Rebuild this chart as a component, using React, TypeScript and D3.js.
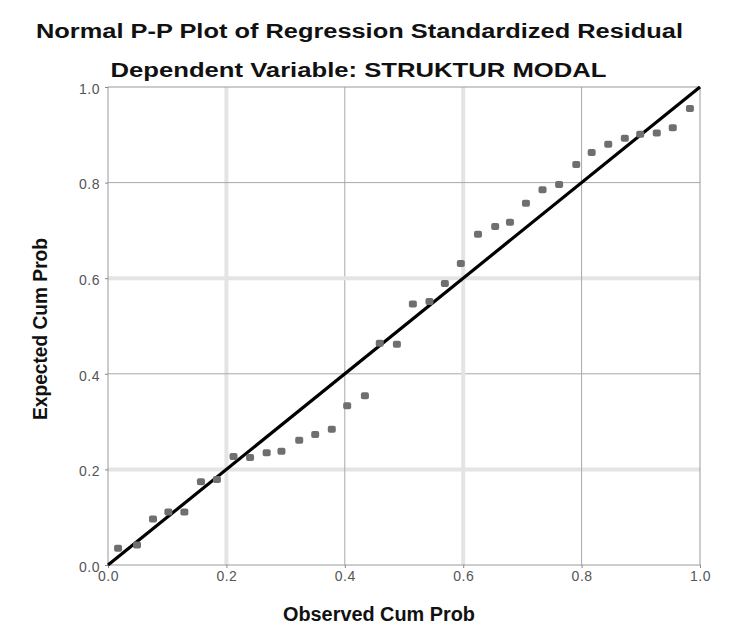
import React, { useRef, useEffect } from "react";
import * as d3 from "d3";

// observed cumulative probability (x) and expected cumulative probability (y)
const observed = [
  0.017, 0.049, 0.076, 0.102, 0.129, 0.157, 0.184, 0.212, 0.24, 0.268, 0.293,
  0.323, 0.35, 0.378, 0.404, 0.434, 0.459, 0.488, 0.515, 0.543, 0.569, 0.596,
  0.625, 0.654, 0.679, 0.706, 0.734, 0.762, 0.791, 0.817, 0.845, 0.873, 0.899,
  0.927, 0.954, 0.983,
];
const expected = [
  0.035, 0.042, 0.096, 0.111, 0.111, 0.174, 0.179, 0.227, 0.225, 0.235, 0.238,
  0.261, 0.273, 0.284, 0.333, 0.354, 0.464, 0.462, 0.546, 0.551, 0.589, 0.631,
  0.692, 0.708, 0.717, 0.757, 0.785, 0.796, 0.838, 0.863, 0.88, 0.893, 0.901,
  0.904, 0.915, 0.955,
];
const ticks = [0, 0.2, 0.4, 0.6, 0.8, 1.0];
const title = "Normal P-P Plot of Regression Standardized Residual";
const subtitle = "Dependent Variable: STRUKTUR MODAL";
const xLabel = "Observed Cum Prob";
const yLabel = "Expected Cum Prob";

const App = () => {
  const ref = useRef<SVGSVGElement>(null);

  useEffect(() => {
    const svg = d3.select(ref.current);
    svg.selectAll("*").remove();

    const W = 747;
    const H = 626;
    const margin = { top: 87, right: 47, bottom: 61, left: 108 };
    const width = W - margin.left - margin.right;
    const height = H - margin.top - margin.bottom;
    const font = "'Liberation Sans', Arial, sans-serif";

    svg.attr("width", W).attr("height", H);
    svg.append("rect").attr("width", W).attr("height", H).attr("fill", "#fff");

    const g = svg
      .append("g")
      .attr("transform", `translate(${margin.left},${margin.top})`);

    const x = d3.scaleLinear().domain([0, 1]).range([0, width]);
    const y = d3.scaleLinear().domain([0, 1]).range([height, 0]);

    // grid: alternating soft / thin lines like the original
    const inner = ticks.slice(1, -1);
    inner.forEach((t, i) => {
      const soft = i % 2 === 0;
      g.append("line")
        .attr("x1", x(t))
        .attr("x2", x(t))
        .attr("y1", 0)
        .attr("y2", height)
        .attr("stroke", soft ? "#e4e4e4" : "#a8a8a8")
        .attr("stroke-width", soft ? 4 : 1);
      g.append("line")
        .attr("x1", 0)
        .attr("x2", width)
        .attr("y1", y(t))
        .attr("y2", y(t))
        .attr("stroke", soft ? "#e4e4e4" : "#a8a8a8")
        .attr("stroke-width", soft ? 4 : 1);
    });

    // frame
    g.append("rect")
      .attr("width", width)
      .attr("height", height)
      .attr("fill", "none")
      .attr("stroke", "#9a9a9a")
      .attr("stroke-width", 1);

    // axes
    const xAxis = g
      .append("g")
      .attr("transform", `translate(0,${height})`)
      .call(
        d3
          .axisBottom(x)
          .tickValues(ticks)
          .tickSize(3)
          .tickFormat(d3.format(".1f"))
      );
    const yAxis = g.append("g").call(
      d3
        .axisLeft(y)
        .tickValues(ticks)
        .tickSize(3)
        .tickFormat(d3.format(".1f"))
    );
    [xAxis, yAxis].forEach((a) => {
      a.select(".domain").remove();
      a.selectAll("line").attr("stroke", "#888");
      a.selectAll("text")
        .attr("fill", "#555")
        .style("font-family", font)
        .style("font-size", "14px")
        .style("letter-spacing", "0.5px");
    });
    xAxis.selectAll("text").attr("y", 8).attr("dy", "0.6em");
    yAxis.selectAll("text").attr("dy", "0.45em").attr("x", -8);

    // reference diagonal
    g.append("line")
      .attr("x1", x(0))
      .attr("y1", y(0))
      .attr("x2", x(1))
      .attr("y2", y(1))
      .attr("stroke", "#000")
      .attr("stroke-width", 3.2);

    // points
    const pts = observed.map((o, i) => ({ o, e: expected[i] }));
    g.selectAll(".pt")
      .data(pts)
      .enter()
      .append("rect")
      .attr("class", "pt")
      .attr("x", (d) => x(d.o) - 4)
      .attr("y", (d) => y(d.e) - 3.5)
      .attr("width", 8)
      .attr("height", 7)
      .attr("rx", 2)
      .attr("fill", "#6f6f6f");

    // titles
    const addText = (
      s: string,
      tx: number,
      ty: number,
      len?: number,
      transform?: string
    ) => {
      const t = svg
        .append("text")
        .attr("x", tx)
        .attr("y", ty)
        .attr("text-anchor", "middle")
        .style("font-family", font)
        .style("font-weight", "bold")
        .style("font-size", "19.5px")
        .attr("fill", "#111")
        .text(s);
      if (len) t.attr("textLength", len).attr("lengthAdjust", "spacingAndGlyphs");
      if (transform) t.attr("transform", transform);
      return t;
    };
    addText(title, 359.5, 38, 647);
    addText(subtitle, 358.5, 77, 496);
    addText(xLabel, 379, 621, 192);
    addText(yLabel, 0, 0, 182, "translate(47,329) rotate(-90)");
  }, []);

  return (
    <svg
      ref={ref}
      style={{ position: "absolute", left: 0, top: 0, display: "block" }}
    />
  );
};

export default App;
